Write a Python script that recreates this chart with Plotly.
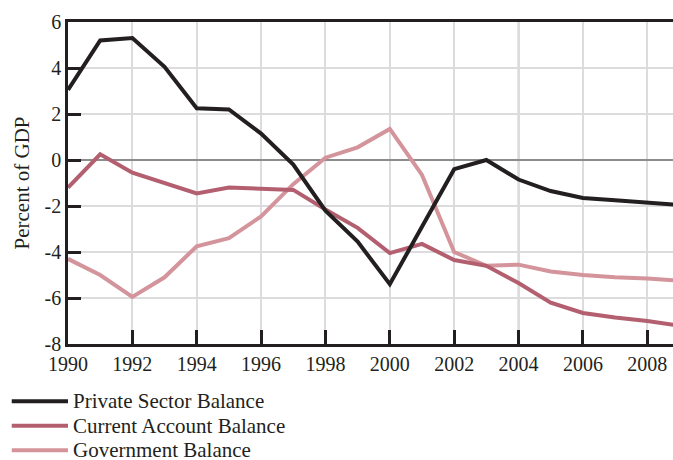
import plotly.graph_objects as go

years = list(range(1990, 2010))
private_sector = [3.05, 5.2, 5.3, 4.05, 2.25, 2.2, 1.15, -0.2, -2.2, -3.55,
                  -5.4, -2.9, -0.4, 0.0, -0.85, -1.35, -1.65, -1.75, -1.85, -1.95]
current_account = [-1.2, 0.25, -0.55, -1.0, -1.45, -1.2, -1.25, -1.3, -2.15, -2.95,
                   -4.05, -3.65, -4.35, -4.6, -5.35, -6.2, -6.65, -6.85, -7.0, -7.2]
government = [-4.3, -5.0, -5.95, -5.1, -3.75, -3.4, -2.45, -1.05, 0.1, 0.55,
              1.35, -0.65, -4.0, -4.6, -4.55, -4.85, -5.0, -5.1, -5.15, -5.25]

x_ticks = list(range(1990, 2010, 2))
y_ticks = [-8, -6, -4, -2, 0, 2, 4, 6]
y_tick_labels = ["-8", "-6", "-4", "-2", "0", "2", "4", "6"]

names = ["Private Sector Balance", "Current Account Balance", "Government Balance"]
colors = ["#231f20", "#b35f70", "#d4949b"]
series = [private_sector, current_account, government]

font = "Liberation Serif, Times New Roman, serif"

fig = go.Figure()
# draw government first so darker lines sit on top
for i in [2, 1, 0]:
    fig.add_trace(go.Scatter(x=years, y=series[i], mode="lines", name=names[i],
                             line=dict(color=colors[i], width=4), showlegend=False))

fig.add_vline(x=2004, line=dict(color="#8c8c8c", width=1.5), layer="below")

# manual legend below the plot
for i, name in enumerate(names):
    ypos = -0.178 - i * 0.076
    fig.add_shape(type="line", xref="paper", yref="paper",
                  x0=-0.093, x1=0.0, y0=ypos, y1=ypos,
                  line=dict(color=colors[i], width=4))
    fig.add_annotation(xref="paper", yref="paper", x=0.006, y=ypos, text=name,
                       showarrow=False, xanchor="left", yanchor="middle",
                       borderpad=0,
                       font=dict(family=font, size=21, color="#231f20"))

fig.update_layout(
    width=673, height=460,
    margin=dict(l=68, r=0, t=22, b=116),
    plot_bgcolor="white", paper_bgcolor="white",
    font=dict(family=font, size=20, color="#231f20"),
    xaxis=dict(range=[1990, 2008.8], tickvals=x_ticks,
               showgrid=True, gridcolor="#dcdcdf", gridwidth=2,
               ticks="inside", ticklen=14, tickwidth=2.5, tickcolor="#231f20",
               showline=True, linecolor="#231f20", linewidth=2.5, mirror=True,
               zeroline=False, automargin=False),
    yaxis=dict(range=[-8, 6], tickvals=y_ticks, ticktext=y_tick_labels,
               showgrid=True, gridcolor="#dcdcdf", gridwidth=2,
               ticks="inside", ticklen=13, tickwidth=2.5, tickcolor="#231f20",
               showline=True, linecolor="#231f20", linewidth=2.5,
               zeroline=True, zerolinecolor="#8c8c8c", zerolinewidth=1.5,
               automargin=False,
               title=dict(text="Percent of GDP", standoff=10, font=dict(size=21))),
)

# drop the default body margin so the figure fills the window exactly
fig.write_html("out.html", config={"displayModeBar": False},
               post_script="document.body.style.margin='0';document.body.style.overflow='hidden';")
